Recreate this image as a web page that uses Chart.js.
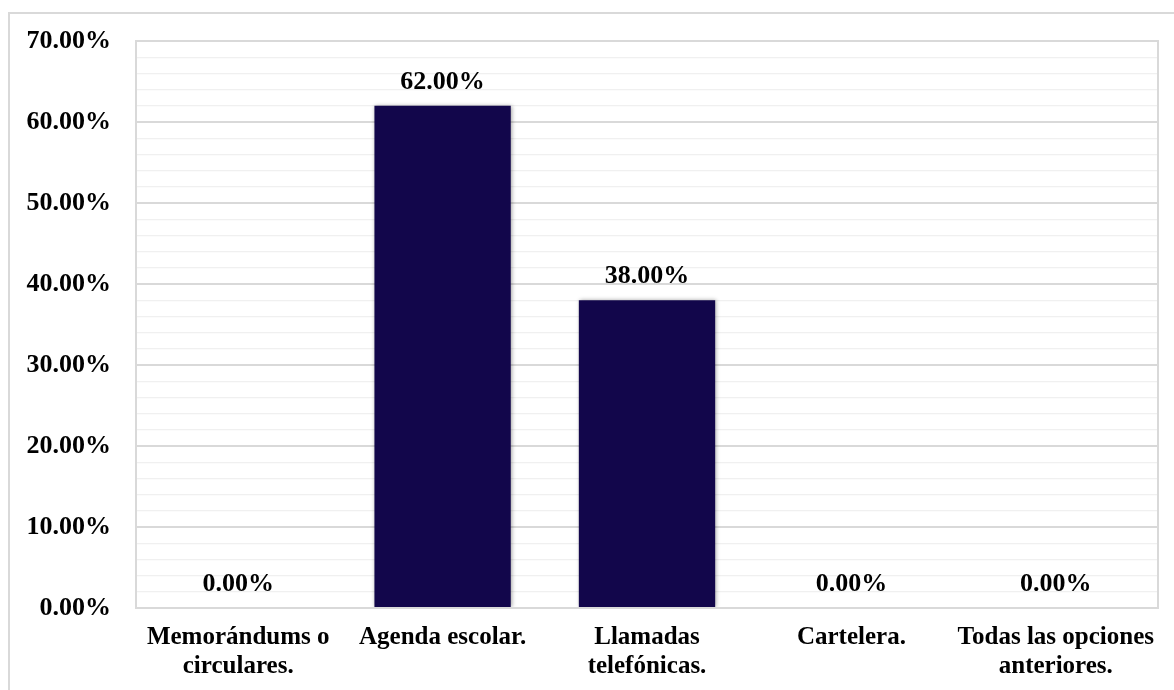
<!DOCTYPE html>
<html>
<head>
<meta charset="utf-8">
<script src="https://cdn.jsdelivr.net/npm/chart.js@4.4.1/dist/chart.umd.min.js"></script>
<style>
  html, body { margin: 0; padding: 0; background: #fff; overflow: hidden; }
  #frame { position: absolute; left: 8px; top: 12px; width: 1200px; height: 720px;
           border: 2px solid #d9d9d9; box-sizing: border-box; }
  #wrap { position: absolute; left: 0; top: 0; width: 1174px; height: 690px; }
</style>
</head>
<body>
<div id="frame"></div>
<div id="wrap"><canvas id="chart"></canvas></div>
<script>
/* ============================================================
   DATA
============================================================ */
const categories = [
  ['Memorándums o', 'circulares.'],
  'Agenda escolar.',
  ['Llamadas', 'telefónicas.'],
  'Cartelera.',
  ['Todas las opciones', 'anteriores.']
];
const percentages = [0, 62, 38, 0, 0];
const yTicks = [0, 10, 20, 30, 40, 50, 60, 70];

const FONT = "'Liberation Serif', 'Times New Roman', serif";
const BAR_COLOR = '#12064b';

// ── 枠線・値ラベル ──
const framePlugin = {
  id: 'frame',
  afterDraw(chart) {
    const { ctx, chartArea: a } = chart;
    ctx.save();
    ctx.strokeStyle = '#d9d9d9';
    ctx.lineWidth = 2;
    ctx.strokeRect(a.left, a.top, a.right - a.left, a.bottom - a.top);
    ctx.restore();
  }
};

const shadowPlugin = {
  id: 'barShadow',
  beforeDatasetDraw(chart) {
    const ctx = chart.ctx;
    ctx.save();
    ctx.shadowColor = 'rgba(0,0,0,0.35)';
    ctx.shadowBlur = 4;
    ctx.shadowOffsetX = 1;
    ctx.shadowOffsetY = 0;
  },
  afterDatasetDraw(chart) {
    chart.ctx.restore();
  }
};

const valueLabels = {
  id: 'valueLabels',
  afterDatasetsDraw(chart) {
    const { ctx } = chart;
    const meta = chart.getDatasetMeta(0);
    ctx.save();
    ctx.font = `bold 26px ${FONT}`;
    ctx.fillStyle = '#000';
    ctx.textAlign = 'center';
    ctx.textBaseline = 'alphabetic';
    meta.data.forEach((bar, i) => {
      ctx.fillText(percentages[i].toFixed(2) + '%', bar.x, bar.y - 17);
    });
    ctx.restore();
  }
};

new Chart(document.getElementById('chart'), {
  type: 'bar',
  data: {
    labels: categories,
    datasets: [{
      data: percentages,
      backgroundColor: BAR_COLOR,
      borderWidth: 0,
      categoryPercentage: 1,
      barPercentage: 0.667
    }]
  },
  options: {
    responsive: true,
    maintainAspectRatio: false,
    animation: false,
    layout: { padding: { left: 0, top: 41, right: 16, bottom: 0 } },
    plugins: { legend: { display: false }, tooltip: { enabled: false } },
    scales: {
      x: {
        grid: { display: false, drawTicks: false },
        border: { display: false },
        ticks: {
          color: '#000',
          padding: 15,
          maxRotation: 0,
          autoSkip: false,
          font: { family: FONT, size: 25, weight: 'bold', lineHeight: 1.16 }
        },
        afterFit: s => { s.height = 82; }
      },
      y: {
        min: 0, max: 70,
        afterBuildTicks: s => {
          const t = [];
          for (let v = 0; v <= 70; v += 2) t.push({ value: v });
          s.ticks = t;
        },
        grid: {
          drawTicks: false,
          color: c => (yTicks.includes(c.tick.value) ? '#d9d9d9' : '#f0f0f0'),
          lineWidth: c => (yTicks.includes(c.tick.value) ? 2 : 1.2)
        },
        border: { display: false },
        ticks: {
          color: '#000',
          padding: 25,
          autoSkip: false,
          font: { family: FONT, size: 26, weight: 'bold' },
          callback: v => (yTicks.includes(v) ? v.toFixed(2) + '%' : '')
        },
        afterFit: s => { s.width = 136; }
      }
    }
  },
  plugins: [shadowPlugin, framePlugin, valueLabels]
});
</script>
</body>
</html>
